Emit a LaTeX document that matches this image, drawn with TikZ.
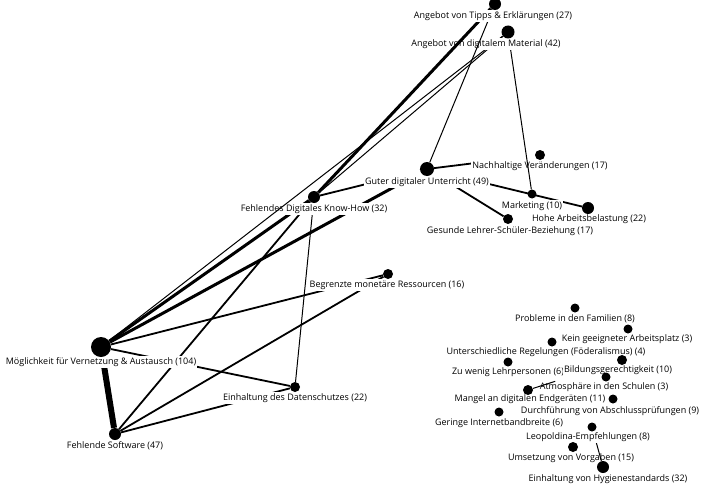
\documentclass[tikz,border=0pt]{standalone}
\usepackage{fontspec}
\setmainfont{Open Sans}
\usepackage{tikz}
\pgfdeclarelayer{bg}
\pgfdeclarelayer{lbls}
\pgfdeclarelayer{over}
\pgfsetlayers{bg,lbls,over,main}

\begin{document}
\begin{tikzpicture}[x=1pt, y=-1pt,
  dot/.style={circle, fill=black, inner sep=0pt, minimum size=#1},
  lbl/.style={fill=white, inner xsep=1pt, inner ysep=1.8pt, font=\fontsize{9}{10}\selectfont},
  tall/.style={text height=13pt},
  thinln/.style={line width=1pt},
  medln/.style={line width=1.8pt},
  thkln/.style={line width=3pt},
  hvyln/.style={line width=6pt}
]
\useasboundingbox (0,0) rectangle (703,487);

\node[dot=12] (tipps) at (495,4) {};
\node[dot=13] (material) at (508,32) {};
\node[dot=10] (nachh) at (540,155) {};
\node[dot=14] (guter) at (427,169) {};
\node[dot=9] (market) at (532,194) {};
\node[dot=12] (hohe) at (588,208) {};
\node[dot=10] (gesund) at (508,219) {};
\node[dot=12] (knowhow) at (314,197) {};
\node[dot=10] (begrenzt) at (388,274) {};
\node[dot=20] (vernetz) at (101,347) {};
\node[dot=10] (datensch) at (295,387) {};
\node[dot=12] (software) at (115,434) {};
\node[dot=9] (familien) at (575,308) {};
\node[dot=9] (arbplatz) at (628,329) {};
\node[dot=9] (regeln) at (552,342) {};
\node[dot=10] (bildung) at (622,360) {};
\node[dot=9] (lehrer) at (508,362) {};
\node[dot=9] (atmo) at (606,377) {};
\node[dot=10] (endgeraet) at (528,390) {};
\node[dot=9] (pruefung) at (613,399) {};
\node[dot=9] (bandbr) at (499,412) {};
\node[dot=9] (leopold) at (592,427) {};
\node[dot=10] (vorgaben) at (573,447) {};
\node[dot=12] (hygiene) at (603,467) {};

\begin{pgfonlayer}{bg}
\draw[hvyln] (vernetz) -- (software);
\draw[thkln] (vernetz) -- (knowhow);
\draw[thkln] (vernetz) -- (guter);
\draw[medln] (vernetz) -- (begrenzt);
\draw[medln] (vernetz) -- (datensch);
\draw[medln] (software) -- (knowhow);
\draw[medln] (software) -- (begrenzt);
\draw[medln] (software) -- (datensch);
\draw[thinln] (knowhow) -- (datensch);
\draw[medln] (knowhow) -- (guter);
\draw[medln] (guter) -- (nachh);
\draw[medln] (guter) -- (gesund);
\draw[medln] (guter) -- (hohe);
\end{pgfonlayer}

\begin{pgfonlayer}{lbls}
\node[lbl, tall] (lnachh) at (540,163) {Nachhaltige Veränderungen (17)};
\node[lbl, tall] (lguter) at (427,179) {Guter digitaler Unterricht (49)};
\node[lbl] (lmarket) at (532,206) {Marketing (10)};
\node[lbl] (lhohe) at (589,219) {Hohe Arbeitsbelastung (22)};
\node[lbl] (lgesund) at (510,231) {Gesunde Lehrer-Schüler-Beziehung (17)};
\node[lbl] (lknowhow) at (314,209) {Fehlendes Digitales Know-How (32)};
\node[lbl] (lbegrenzt) at (387,285) {Begrenzte monetäre Ressourcen (16)};
\node[lbl] (lvernetz) at (101,362) {Möglichkeit für Vernetzung \& Austausch  (104)};
\node[lbl] (ldatensch) at (295,398) {Einhaltung des Datenschutzes (22)};
\node[lbl] (lsoftware) at (115,446) {Fehlende Software (47)};
\node[lbl] (lfamilien) at (575,319) {Probleme in den Familien (8)};
\node[lbl] (larbplatz) at (627,339) {Kein geeigneter Arbeitsplatz (3)};
\node[lbl] (lregeln) at (546,352) {Unterschiedliche Regelungen (Föderalismus) (4)};
\node[lbl] (llehrer) at (508,372) {Zu wenig Lehrpersonen (6)};
\node[lbl] (lbildung) at (618,370) {Bildungsgerechtigkeit (10)};
\node[lbl] (latmo) at (604,387) {Atmosphäre in den Schulen (3)};
\node[lbl] (lendgeraet) at (530,399) {Mangel an digitalen Endgeräten (11)};
\node[lbl] (lpruefung) at (610,411) {Durchführung von Abschlussprüfungen (9)};
\node[lbl] (lbandbr) at (499,423) {Geringe Internetbandbreite (6)};
\node[lbl] (lvorgaben) at (571,458) {Umsetzung von Vorgaben (15)};
\end{pgfonlayer}

\begin{pgfonlayer}{over}
\draw[thinln, shorten >=65pt] (endgeraet) -- (bildung);
\draw[thinln] (leopold) -- (hygiene);
\node[lbl] (lleopold) at (588,437) {Leopoldina-Empfehlungen (8)};
\node[lbl] (lhygiene) at (608,479) {Einhaltung von Hygienestandards (32)};
\draw[thinln] (material) -- (vernetz);
\draw[thinln] (material) -- (knowhow);
\draw[thinln] (material) -- (market);
\node[lbl] (lmaterial) at (486,44) {Angebot von digitalem Material (42)};
\draw[thkln] (tipps) -- (knowhow);
\draw[thinln] (tipps) -- (guter);
\node[lbl] (ltipps) at (493,16) {Angebot von Tipps \& Erklärungen (27)};
\end{pgfonlayer}
\end{tikzpicture}
\end{document}
